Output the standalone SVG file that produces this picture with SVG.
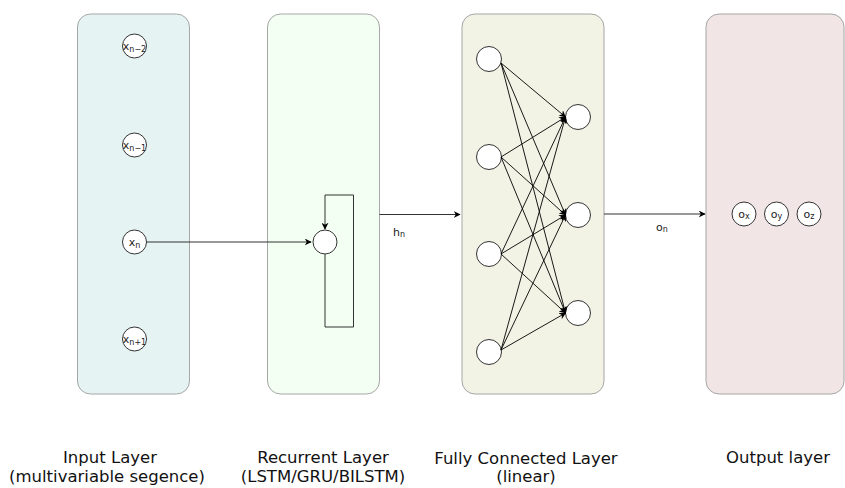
<svg xmlns="http://www.w3.org/2000/svg" width="845" height="488" viewBox="0 0 845 488">
<defs>
<marker id="arr" viewBox="0 0 10 10" refX="9" refY="5" markerWidth="7" markerHeight="7" orient="auto" markerUnits="userSpaceOnUse"><path d="M0,0 L10,5 L0,10 L3,5 Z" fill="#000"/></marker>
<style>
.box{stroke:#a6a6a6;stroke-width:1}
.node{fill:#fff;stroke:#333;stroke-width:1}
.conn{fill:none;stroke:#000;stroke-width:0.9;marker-end:url(#arr)}
.conn2{fill:none;stroke:#333;stroke-width:1}
.t{font-family:"DejaVu Sans",sans-serif;font-size:16.5px;fill:#111;text-anchor:middle}
.s{font-family:"DejaVu Sans",sans-serif;font-size:11px;fill:#222;text-anchor:middle}
.sub{font-size:8px}
</style>
</defs>
<rect width="845" height="488" fill="#fff"/>
<g id="input-layer">
<rect class="box" x="77.5" y="14" width="112" height="380" rx="13" fill="#e5f3f3"/>
<circle class="node" cx="134.5" cy="46" r="12"/>
<text class="s" x="134.5" y="49.5">x<tspan class="sub" dy="2">n−2</tspan></text>
<circle class="node" cx="134.5" cy="145" r="12"/>
<text class="s" x="134.5" y="148.5">x<tspan class="sub" dy="2">n−1</tspan></text>
<circle class="node" cx="134.5" cy="242" r="12"/>
<text class="s" x="134.5" y="245.5">x<tspan class="sub" dy="2">n</tspan></text>
<circle class="node" cx="134.5" cy="339" r="12"/>
<text class="s" x="134.5" y="342.5">x<tspan class="sub" dy="2">n+1</tspan></text>
</g>
<g id="recurrent-layer">
<rect class="box" x="267.5" y="14" width="112" height="380" rx="13" fill="#f2fff2"/>
<circle class="node" cx="325" cy="242" r="12"/>
</g>
<g id="fc-layer">
<rect class="box" x="462" y="14" width="142" height="380" rx="13" fill="#f2f2e5"/>
<circle class="node" cx="489" cy="59" r="12.5"/>
<circle class="node" cx="489" cy="157" r="12.5"/>
<circle class="node" cx="489" cy="254" r="12.5"/>
<circle class="node" cx="489" cy="352" r="12.5"/>
<circle class="node" cx="578" cy="117" r="12.5"/>
<circle class="node" cx="578" cy="215" r="12.5"/>
<circle class="node" cx="578" cy="313" r="12.5"/>
</g>
<g id="output-layer">
<rect class="box" x="706" y="14" width="138" height="380" rx="13" fill="#f2e5e5"/>
<circle class="node" cx="744" cy="214" r="12"/>
<text class="s" x="744" y="218">o<tspan class="sub" dy="1">x</tspan></text>
<circle class="node" cx="776.5" cy="214" r="12"/>
<text class="s" x="776.5" y="218">o<tspan class="sub" dy="1">y</tspan></text>
<circle class="node" cx="809" cy="214" r="12"/>
<text class="s" x="809" y="218">o<tspan class="sub" dy="1">z</tspan></text>
</g>
<g id="connectors">
<line class="conn2" x1="146.5" y1="242" x2="311" y2="242" marker-end="url(#arr)"/>
<path class="conn2" d="M325,254 V327 H353.5 V195 H325 V229" marker-end="url(#arr)"/>
<line class="conn2" x1="379.5" y1="214.5" x2="460" y2="214.5" marker-end="url(#arr)"/>
<line class="conn2" x1="604" y1="214" x2="705" y2="214" marker-end="url(#arr)"/>
<line class="conn" x1="501" y1="63" x2="565.5" y2="117"/>
<line class="conn" x1="501" y1="63" x2="565.5" y2="215"/>
<line class="conn" x1="501" y1="63" x2="565.5" y2="313"/>
<line class="conn" x1="501" y1="157" x2="565.5" y2="117"/>
<line class="conn" x1="501" y1="157" x2="565.5" y2="215"/>
<line class="conn" x1="501" y1="157" x2="565.5" y2="313"/>
<line class="conn" x1="501" y1="254" x2="565.5" y2="117"/>
<line class="conn" x1="501" y1="254" x2="565.5" y2="215"/>
<line class="conn" x1="501" y1="254" x2="565.5" y2="313"/>
<line class="conn" x1="501" y1="350" x2="565.5" y2="117"/>
<line class="conn" x1="501" y1="350" x2="565.5" y2="215"/>
<line class="conn" x1="501" y1="350" x2="565.5" y2="313"/>
<text class="s" x="399" y="236">h<tspan class="sub" dy="1">n</tspan></text>
<text class="s" x="662" y="231">o<tspan class="sub" dy="1">n</tspan></text>
</g>
<g id="labels">
<text class="t" x="110" y="463">Input Layer</text>
<text class="t" x="107" y="482">(multivariable segence)</text>
<text class="t" x="323" y="463">Recurrent Layer</text>
<text class="t" x="323" y="482">(LSTM/GRU/BILSTM)</text>
<text class="t" x="526" y="464">Fully Connected Layer</text>
<text class="t" x="526" y="482">(linear)</text>
<text class="t" x="778" y="463">Output layer</text>
</g>
</svg>
